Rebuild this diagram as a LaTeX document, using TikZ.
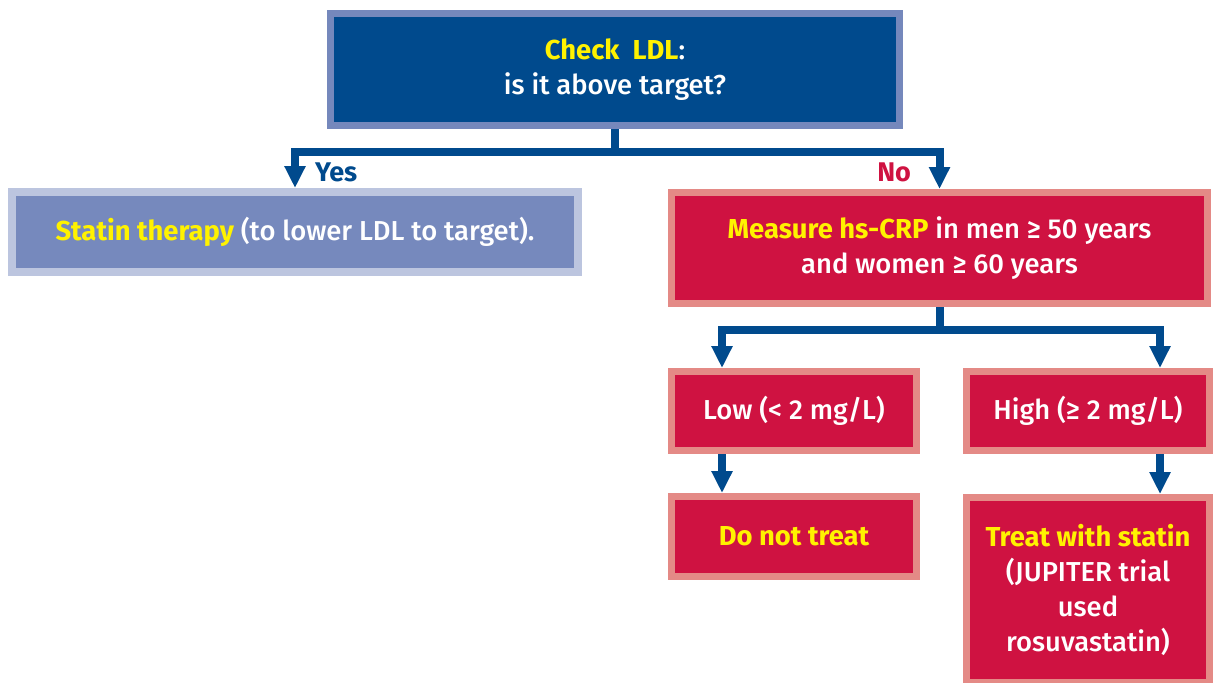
\documentclass[tikz,border=0pt]{standalone}
\usepackage{fontspec}
\setmainfont{Fira Sans}[UprightFont=* Medium, BoldFont=* Bold]
\usepackage{tikz}
\usetikzlibrary{arrows.meta,positioning}
\definecolor{navy}{RGB}{0,74,141}
\definecolor{navyedge}{RGB}{117,136,188}
\definecolor{slate}{RGB}{118,137,189}
\definecolor{slateedge}{RGB}{188,197,223}
\definecolor{crimson}{RGB}{207,18,65}
\definecolor{crimsonedge}{RGB}{228,138,134}
\definecolor{hilite}{RGB}{255,242,0}
\newcommand{\hl}[1]{\textcolor{hilite}{\bfseries #1}}

\begin{document}
\begin{tikzpicture}[x=0.5pt,y=-0.5pt,
	box/.style={draw, line width=3.5pt, text=white, align=center, inner sep=0pt,
		font=\fontsize{13.7}{17.5}\selectfont},
	bluebox/.style={box, fill=navy, draw=navyedge},
	greybox/.style={box, fill=slate, draw=slateedge, line width=4pt},
	redbox/.style={box, fill=crimson, draw=crimsonedge},
	flow/.style={draw=navy, line width=4pt},
	arrow/.style={flow, -{Triangle[width=10pt,length=11pt]}},
	lbl/.style={font=\bfseries\fontsize{13.5}{15}\selectfont}]
	% page frame
	\useasboundingbox (0,0) rectangle (1213,682);
	% boxes
	\node[bluebox, minimum width=284.5pt, minimum height=56pt] (check) at (615,69.5)
		{\hl{Check\ \ LDL}:\\is it above target?};
	\node[greybox, minimum width=283pt, minimum height=40pt] (statin) at (295,232)
		{\hl{Statin therapy} (to lower LDL to target).};
	\node[redbox, minimum width=268pt, minimum height=55.5pt] (measure) at (939.5,248)
		{\hl{Measure hs-CRP} in men ≥ 50 years\\and women ≥ 60 years};
	\node[redbox, minimum width=122.5pt, minimum height=39.5pt] (low) at (794,411)
		{Low (< 2 mg/L)};
	\node[redbox, minimum width=121.5pt, minimum height=39.5pt] (high) at (1088,411)
		{High (≥ 2 mg/L)};
	\node[redbox, minimum width=122.5pt, minimum height=40pt] (notreat) at (794,536.5)
		{\hl{Do not treat}};
	\node[redbox, minimum width=121.5pt, minimum height=92.5pt] (treat) at (1088,590)
		{\hl{Treat with statin}\\(JUPITER trial\\used\\rosuvastatin)};
	% first split
	\coordinate (split1) at (check.south |- 0,152);
	\draw[flow] (check.south) -- (split1);
	\draw[arrow] (split1) -| (statin.north);
	\draw[arrow] (split1) -| (measure.north);
	\node[lbl, text=navy, anchor=west] (yes) at (308,172) {Yes};
	\node[lbl, text=crimson, anchor=east] (no) at (918,172) {No};
	% second split
	\coordinate (split2) at (measure.south |- 0,330);
	\draw[flow] (measure.south) -- (split2);
	\draw[arrow] (split2) -| (722,0 |- low.north);
	\draw[arrow] (split2) -| (1160,0 |- high.north);
	% outcomes
	\draw[arrow] (722,0 |- low.south) -- (722,0 |- notreat.north);
	\draw[arrow] (1160,0 |- high.south) -- (1160,0 |- treat.north);
\end{tikzpicture}
\end{document}
